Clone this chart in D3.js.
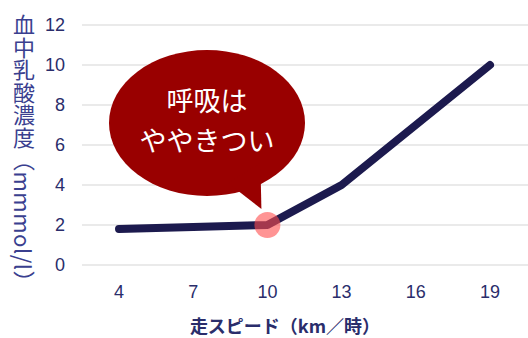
<!DOCTYPE html>
<html>
<head>
<meta charset="utf-8">
<script src="https://d3js.org/d3.v7.min.js"></script>
<style>
  body { margin: 0; background: #fff; }
</style>
</head>
<body>
<svg id="chart" width="528" height="338"></svg>
<script>
const speeds = ["4", "7", "10", "13", "16", "19"];
const lactate = [1.8, 1.9, 2.0, 4.0, 7.0, 10.0];
const yTicks = [0, 2, 4, 6, 8, 10, 12];
const bubbleLines = ["呼吸は", "ややきつい"];
const markIndex = 2;

const svg = d3.select("#chart");
const inkColor = "#2a2d6b";
const cjk = "'Noto Sans CJK JP', 'Noto Sans', sans-serif";
const latin = "'Liberation Sans', Arial, sans-serif";

const x = d3.scalePoint().domain(speeds).range([119, 490]);
const y = d3.scaleLinear().domain([0, 12]).range([265, 25]);

// grid
svg.append("g").selectAll("line").data(yTicks).join("line")
   .attr("x1", 82).attr("x2", 528)
   .attr("y1", d => y(d)).attr("y2", d => y(d))
   .attr("stroke", "#e3e3e3").attr("stroke-width", 1.3);

// y tick labels
svg.append("g").selectAll("text").data(yTicks).join("text")
   .attr("x", 65).attr("y", d => y(d)).attr("dy", "0.35em")
   .attr("text-anchor", "end")
   .style("font-family", latin)
   .attr("font-size", 18).attr("fill", inkColor)
   .text(d => d);

// x tick labels
svg.append("g").selectAll("text").data(speeds).join("text")
   .attr("x", d => x(d)).attr("y", 298)
   .attr("text-anchor", "middle")
   .style("font-family", latin)
   .attr("font-size", 18).attr("fill", inkColor)
   .text(d => d);

// axis titles
svg.append("text")
   .attr("x", 285).attr("y", 333)
   .attr("text-anchor", "middle")
   .style("font-family", cjk)
   .attr("font-size", 18).attr("font-weight", "bold")
   .attr("fill", inkColor)
   .text("走スピード（km／時）");

svg.append("text")
   .attr("x", 24).attr("y", 14)
   .style("writing-mode", "vertical-rl")
   .style("font-family", cjk)
   .style("letter-spacing", "0.5px")
   .attr("font-size", 22)
   .attr("fill", "#3a3f8f")
   .text("血中乳酸濃度（mmmol/l）");

// line
const line = d3.line().x((d, i) => x(speeds[i])).y(d => y(d));
svg.append("path").datum(lactate)
   .attr("d", line)
   .attr("fill", "none")
   .attr("stroke", "#1c1a4e")
   .attr("stroke-width", 8)
   .attr("stroke-linecap", "round")
   .attr("stroke-linejoin", "round");

// speech bubble
const bx = 207, by = 123, rx = 98, ry = 73;
const tipX = x(speeds[markIndex]) - 6, tipY = y(lactate[markIndex]) - 16;
const bubble = svg.append("g");
bubble.append("ellipse")
   .attr("cx", bx).attr("cy", by).attr("rx", rx).attr("ry", ry)
   .attr("fill", "#990000");
bubble.append("path")
   .attr("d", `M228,${by + 60} L${tipX},${tipY} L${tipX - 1},${by + 40} Z`)
   .attr("fill", "#990000");
bubble.selectAll("text").data(bubbleLines).join("text")
   .attr("x", bx).attr("y", (d, i) => 102 + i * 40)
   .attr("dy", "0.35em")
   .attr("text-anchor", "middle")
   .style("font-family", cjk)
   .attr("font-size", 27).attr("fill", "#fff")
   .text(d => d);

// highlight point
svg.append("circle")
   .attr("cx", x(speeds[markIndex])).attr("cy", y(lactate[markIndex]))
   .attr("r", 13)
   .attr("fill", "#ff4d4d").attr("fill-opacity", 0.6);
</script>
</body>
</html>
